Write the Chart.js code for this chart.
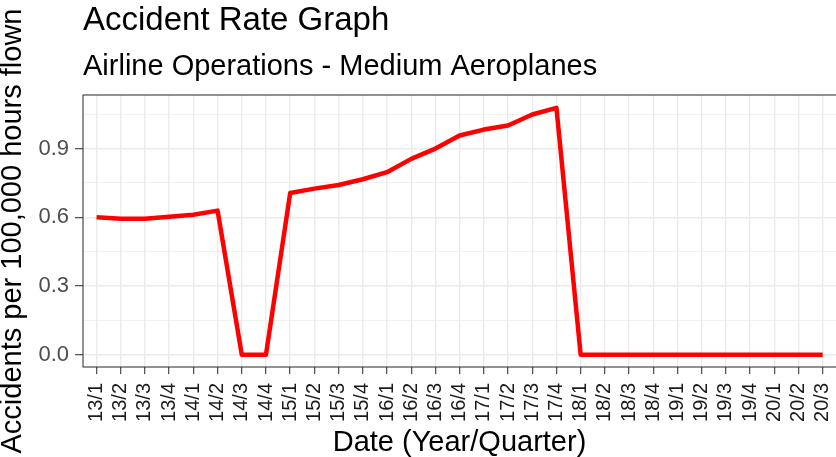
<!DOCTYPE html>
<html>
<head>
<meta charset="utf-8">
<script src="https://cdn.jsdelivr.net/npm/chart.js@4/dist/chart.umd.min.js"></script>
<style>
    html, body { margin: 0; padding: 0; background: #ffffff; }
    #wrap { width: 836px; height: 457px; position: relative; }
</style>
</head>
<body>
<div id="wrap"><canvas id="rateChart"></canvas></div>
<script>
// ---------------- DATA ----------------
const quarters = [
    "13/1", "13/2", "13/3", "13/4",
    "14/1", "14/2", "14/3", "14/4",
    "15/1", "15/2", "15/3", "15/4",
    "16/1", "16/2", "16/3", "16/4",
    "17/1", "17/2", "17/3", "17/4",
    "18/1", "18/2", "18/3", "18/4",
    "19/1", "19/2", "19/3", "19/4",
    "20/1", "20/2", "20/3"
];

const accidentRate = [
    0.60, 0.593, 0.593, 0.602,
    0.611, 0.629, 0.0, 0.0,
    0.706, 0.725, 0.741, 0.766,
    0.797, 0.855, 0.900, 0.957,
    0.983, 1.001, 1.049, 1.078,
    0.0, 0.0, 0.0, 0.0,
    0.0, 0.0, 0.0, 0.0,
    0.0, 0.0, 0.0
];

const yMajorTicks = [0, 0.3, 0.6, 0.9];
const yMinorTicks = [0.15, 0.45, 0.75, 1.05];

const chartTitle = "Accident Rate Graph";
const chartSubtitle = "Airline Operations - Medium Aeroplanes";
const xTitle = "Date (Year/Quarter)";
const yTitle = "Accidents per 100,000 hours flown";

// ---------------- HELPERS ----------------
const FONT = "'Liberation Sans', Arial, sans-serif";

function isMajor(v) {
    return yMajorTicks.some(m => Math.abs(m - v) < 1e-9);
}

const titlePlugin = {
    id: "ggTitles",
    beforeDraw(chart) {
        const c = chart.ctx;
        c.save();
        c.fillStyle = "#ffffff";
        c.fillRect(0, 0, chart.width, chart.height);
        c.restore();
    },
    afterDraw(chart) {
        const c = chart.ctx;
        const area = chart.chartArea;

        c.save();
        c.fillStyle = "#000000";
        c.textBaseline = "alphabetic";
        c.textAlign = "left";

        c.font = "33px " + FONT;
        c.fillText(chartTitle, area.left, 29.5);

        c.font = "29px " + FONT;
        c.fillText(chartSubtitle, area.left, 75);

        // panel border (theme_bw)
        c.strokeStyle = "#333333";
        c.lineWidth = 1.07;
        c.strokeRect(area.left, area.top, area.right - area.left + 4, area.bottom - area.top);
        c.restore();
    }
};

// ---------------- CHART ----------------
const ctx = document.getElementById("rateChart");

const rateChart = new Chart(ctx, {
    type: "line",

    data: {
        datasets: [{
            label: "Accident Rate",
            data: accidentRate.map((v, i) => ({ x: i, y: v })),
            borderColor: "#ff0000",
            borderWidth: 4.5,
            pointRadius: 0,
            tension: 0,
            borderJoinStyle: "round",
            fill: false
        }]
    },

    options: {
        responsive: true,
        maintainAspectRatio: false,
        devicePixelRatio: 1,
        animation: false,
        events: [],

        layout: {
            padding: { top: 95, left: 0, right: 0, bottom: 0 }
        },

        plugins: {
            legend: { display: false },
            tooltip: { enabled: false }
        },

        scales: {
            x: {
                type: "linear",
                min: -0.56,
                max: 30.55,
                afterBuildTicks: (scale) => {
                    scale.ticks = quarters.map((q, i) => ({ value: i }));
                },
                afterFit: (scale) => {
                    scale.height = 90;
                    scale.paddingLeft = 0;
                    scale.paddingRight = 0;
                },
                ticks: {
                    autoSkip: false,
                    minRotation: 90,
                    maxRotation: 90,
                    padding: 9,
                    color: "#1a1a1a",
                    font: { family: FONT, size: 20 },
                    callback: (value) => quarters[value]
                },
                grid: {
                    color: "#ebebeb",
                    lineWidth: 1.4,
                    tickLength: 7,
                    tickColor: "#333333",
                    tickWidth: 1.07
                },
                border: { display: false },
                title: {
                    display: true,
                    text: xTitle,
                    color: "#000000",
                    font: { family: FONT, size: 29 },
                    padding: { top: 0, bottom: -3 }
                }
            },

            y: {
                min: -0.054,
                max: 1.134,
                afterBuildTicks: (scale) => {
                    scale.ticks = yMajorTicks.concat(yMinorTicks)
                        .sort((a, b) => a - b)
                        .map(v => ({ value: v }));
                },
                afterFit: (scale) => {
                    scale.width = 83;
                },
                ticks: {
                    padding: 6,
                    color: "#4d4d4d",
                    font: { family: FONT, size: 22 },
                    callback: (value) => isMajor(value) ? value.toFixed(1) : ""
                },
                grid: {
                    color: "#ebebeb",
                    lineWidth: (c) => isMajor(c.tick.value) ? 1.4 : 0.7,
                    tickLength: 8,
                    tickColor: (c) => isMajor(c.tick.value) ? "#333333" : "rgba(0,0,0,0)",
                    tickWidth: 1.07
                },
                border: { display: false },
                title: {
                    display: true,
                    text: yTitle,
                    color: "#000000",
                    font: { family: FONT, size: 29, lineHeight: 0.9 },
                    padding: 0
                }
            }
        }
    },

    plugins: [titlePlugin]
});
</script>
</body>
</html>
